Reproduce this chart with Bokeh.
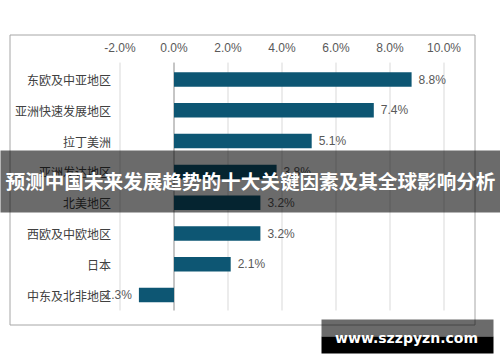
from bokeh.plotting import figure
from bokeh.models import Range1d, ColumnDataSource
from bokeh.core.properties import value
from bokeh.embed import file_html
from bokeh.resources import INLINE

categories = ["东欧及中亚地区", "亚洲快速发展地区", "拉丁美洲", "亚洲发达地区",
              "北美地区", "西欧及中欧地区", "日本", "中东及北非地区"]
growth = [8.8, 7.4, 5.1, 3.8, 3.2, 3.2, 2.1, -1.3]
tick_values = [-2, 0, 2, 4, 6, 8, 10]
tick_labels = ["-2.0%", "0.0%", "2.0%", "4.0%", "6.0%", "8.0%", "10.0%"]
banner_title = "预测中国未来发展趋势的十大关键因素及其全球影响分析"
watermark = "www.szzpyzn.com"

W, H = 500, 362
ZERO_PX, PX_PCT = 173.5, 27.0
ROW0_PX, PX_ROW = 79.0, 30.8


def dx(px):
    return (px - ZERO_PX) / PX_PCT


def dy(py):
    return (py - ROW0_PX) / PX_ROW


p = figure(width=W, height=H, x_range=Range1d(dx(0), dx(W)),
           y_range=Range1d(dy(H), dy(0)), output_backend="svg",
           toolbar_location=None, min_border=0,
           x_axis_type=None, y_axis_type=None)
p.grid.visible = False
p.outline_line_color = None
p.border_fill_color = "white"
p.background_fill_color = "white"

n = len(categories)
idx = list(range(n))

# chart area border
p.quad(left=dx(9.5), right=dx(474.5), top=dy(34.5), bottom=dy(324.5),
       fill_color=None, line_color="#a6a6a6", line_width=1)

# gridlines
grid_x = [t for t in tick_values if t != 0]
p.segment(x0=grid_x, x1=grid_x, y0=[-0.55] * len(grid_x), y1=[n - 0.5] * len(grid_x),
          line_color="#d9d9d9", line_width=1)
# zero line
p.segment(x0=[0], x1=[0], y0=[-0.55], y1=[n - 0.5], line_color="#8c8c8c", line_width=1)

# tick labels (top axis)
p.text(x=tick_values, y=[dy(47)] * len(tick_values), text=tick_labels,
       text_align="center", text_baseline="middle", text_font=value("Liberation Sans"),
       text_font_size="12px", text_color="#595959")

# bars
src = ColumnDataSource(dict(y=idx, v=growth, cat=categories))
p.hbar(y="y", left=0, right="v", height=0.47, source=src,
       fill_color="#0D5673", line_color=None)

# category labels
p.text(x=[-2] * n, y=idx, text=categories, x_offset=-9,
       text_align="right", text_baseline="middle", text_font=value("Noto Sans CJK SC"),
       text_font_size="12px", text_color="#404040")

# value labels
pos = [i for i in idx if growth[i] >= 0]
neg = [i for i in idx if growth[i] < 0]
p.text(x=[growth[i] for i in pos], y=pos, text=["%.1f%%" % growth[i] for i in pos],
       x_offset=7, text_align="left", text_baseline="middle",
       text_font=value("Liberation Sans"), text_font_size="12px", text_color="#595959")
p.text(x=[growth[i] for i in neg], y=neg, text=["%.1f%%" % growth[i] for i in neg],
       x_offset=-7, text_align="right", text_baseline="middle",
       text_font=value("Liberation Sans"), text_font_size="12px", text_color="#595959")

# banner overlay
p.quad(left=dx(-5), right=dx(W + 5), top=dy(150), bottom=dy(212),
       fill_color="black", fill_alpha=0.58, line_color=None)
p.text(x=[dx(250)], y=[dy(180)], text=[banner_title], text_align="center",
       text_baseline="middle", text_font=value("Noto Sans CJK SC"),
       text_font_style="bold", text_font_size="19.6px", text_color="white")

# watermark
p.quad(left=dx(321), right=dx(493), top=dy(319), bottom=dy(336),
       fill_color="black", fill_alpha=0.58, line_color=None)
p.quad(left=dx(321), right=dx(493), top=dy(336), bottom=dy(353),
       fill_color="black", fill_alpha=1.0, line_color=None)
p.text(x=[dx(406)], y=[dy(337)], text=[watermark], text_align="center",
       text_baseline="middle", text_font=value("DejaVu Sans"),
       text_font_style="bold", text_font_size="14px", text_color="white")

open("out.html", "w").write(file_html(p, INLINE))
